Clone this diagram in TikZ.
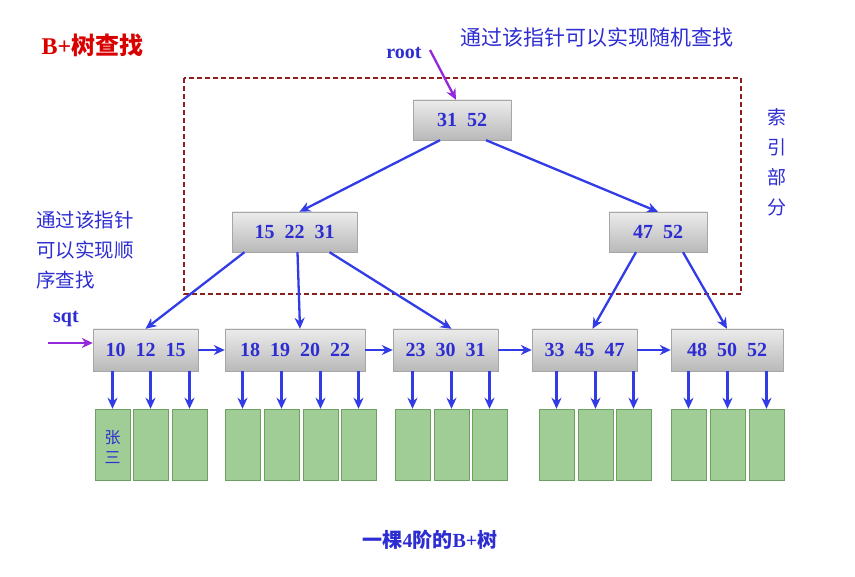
\documentclass[tikz,border=0pt]{standalone}
\usepackage{fontspec}
\setmainfont{Liberation Serif}
\newfontfamily\cjk{Noto Sans CJK SC}
\usetikzlibrary{arrows.meta}
\definecolor{tblue}{RGB}{45,45,210}
\definecolor{abl}{RGB}{50,60,230}
\definecolor{pur}{RGB}{150,40,220}
\definecolor{dred}{RGB}{140,30,30}
\definecolor{grn}{RGB}{160,205,150}
\definecolor{grnd}{RGB}{110,160,100}
\tikzset{
 keybox/.style={draw=gray!70,top color=gray!15,bottom color=gray!55,minimum height=40pt,text=tblue,font=\bfseries\fontsize{20}{20}\selectfont,inner sep=0pt},
 data/.style={draw=grnd,fill=grn,minimum width=35pt,minimum height=71pt,inner sep=0pt},
 arr/.style={-{Stealth[length=11pt,width=10pt]},abl,line width=2.3pt},
 parr/.style={-{Stealth[length=11pt,width=10pt]},pur,line width=2.3pt},
 cjkt/.style={text=tblue,font=\cjk\fontsize{19.5}{30}\selectfont,align=left,inner sep=0pt},
}
\begin{document}
\begin{tikzpicture}[x=1pt,y=-1pt]
\useasboundingbox (0,0) rectangle (855,577);
\node[text=red!85!black,font=\bfseries\fontsize{24}{24}\selectfont,anchor=west] (title) at (38,45) {B+{\cjk 树查找}};
\node[cjkt,font=\cjk\fontsize{21}{21}\selectfont] (t1) at (597,38) {通过该指针可以实现随机查找};
\node[text=tblue,font=\bfseries\fontsize{20}{20}\selectfont] (root) at (404,53) {root};
\draw[dash pattern=on 5pt off 3pt,dred,line width=1.2pt] (184,78) rectangle (741,294);
\node[cjkt,align=center,font=\cjk\fontsize{19}{30}\selectfont] (idx) at (777,162) {索\\引\\部\\分};
\node[cjkt] (t2) at (85,250) {通过该指针\\可以实现顺\\序查找};
\node[text=tblue,font=\bfseries\fontsize{20}{20}\selectfont] (sqt) at (66,319) {sqt};
\node[keybox,minimum width=98pt] (r) at (462,120) {31\ \ 52};
\node[keybox,minimum width=125pt] (a) at (294.5,232) {15\ \ 22\ \ 31};
\node[keybox,minimum width=98pt] (b) at (658,232) {47\ \ 52};
\node[keybox,minimum width=105pt,minimum height=42pt] (l1) at (145.5,350) {10\ \ 12\ \ 15};
\node[keybox,minimum width=140pt,minimum height=42pt] (l2) at (295,350) {18\ \ 19\ \ 20\ \ 22};
\node[keybox,minimum width=105pt,minimum height=42pt] (l3) at (445.5,350) {23\ \ 30\ \ 31};
\node[keybox,minimum width=105pt,minimum height=42pt] (l4) at (584.5,350) {33\ \ 45\ \ 47};
\node[keybox,minimum width=112pt,minimum height=42pt] (l5) at (727,350) {48\ \ 50\ \ 52};
\coordinate (rt) at (430,50);
\draw[parr] (rt) -- ([xshift=-6pt]r.north);
\coordinate (sq) at (48,343);
\draw[parr] (sq) -- (l1.west |- sq);
\draw[arr] ([xshift=-22pt]r.south) -- ([xshift=5pt]a.north);
\draw[arr] ([xshift=24pt]r.south) -- (b.north);
\draw[arr] ([xshift=-50pt]a.south) -- (l1.north);
\draw[arr] ([xshift=3pt]a.south) -- ([xshift=5pt]l2.north);
\draw[arr] ([xshift=35pt]a.south) -- ([xshift=6pt]l3.north);
\draw[arr] ([xshift=-22pt]b.south) -- ([xshift=8pt]l4.north);
\draw[arr] ([xshift=25pt]b.south) -- (l5.north);
\draw[arr] (l1.east) -- (l2.west);
\draw[arr] (l2.east) -- (l3.west);
\draw[arr] (l3.east) -- (l4.west);
\draw[arr] (l4.east) -- (l5.west);
\foreach \x [count=\i] in {112.5,150.5,189.5,242.5,281.5,320.5,358.5,412.5,451.5,489.5,556.5,595.5,633.5,688.5,727.5,766.5}{
  \node[data] (d\i) at (\x,444.5) {};
  \coordinate (u\i) at (\x,371);
  \draw[arr] (u\i) -- (d\i.north);
}
\node[text=tblue,font=\cjk\fontsize{16}{20}\selectfont,align=center,anchor=north] (zs) at (d1.north) [yshift=-18pt] {张\\三};
\node[text=tblue,font=\bfseries\fontsize{20}{20}\selectfont] (cap) at (430,540) {{\cjk 一棵}4{\cjk 阶的}B+{\cjk 树}};
\end{tikzpicture}
\end{document}
